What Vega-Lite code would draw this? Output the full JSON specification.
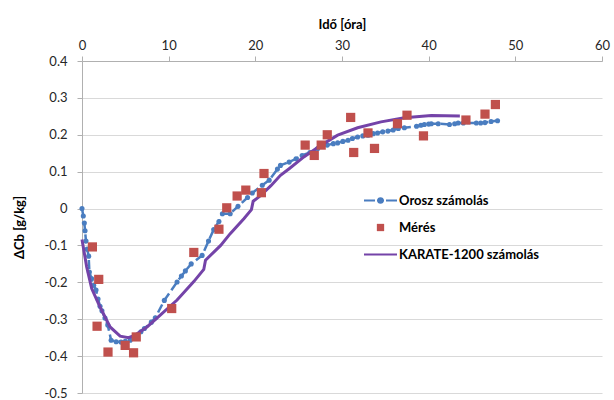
{
  "$schema": "https://vega.github.io/schema/vega-lite/v6.json",
  "autosize": {"type": "none"},
  "width": 520,
  "height": 332,
  "padding": {"left": 82, "top": 61, "right": 12, "bottom": 7},
  "background": "white",
  "config": {
    "font": "Lato",
    "view": {"stroke": null},
    "axis": {"labelFont": "Lato", "titleFont": "Lato", "labelFontSize": 13, "labelColor": "#262626", "titleColor": "#000000", "titleFontSize": 13, "titleFontWeight": "bold", "domainColor": "#B0B0B0", "tickColor": "#B0B0B0", "gridColor": "#D9D9D9", "tickSize": 5}
  },
  "datasets": {
    "orosz": [
      {"t": 0, "v": 0}, {"t": 0.15, "v": -0.02}, {"t": 0.27, "v": -0.039}, {"t": 0.35, "v": -0.06}, {"t": 0.46, "v": -0.088},
      {"t": 0.6, "v": -0.11}, {"t": 0.77, "v": -0.129}, {"t": 0.85, "v": -0.172}, {"t": 1.1, "v": -0.19}, {"t": 1.35, "v": -0.208},
      {"t": 1.62, "v": -0.221}, {"t": 1.85, "v": -0.245}, {"t": 2.08, "v": -0.265}, {"t": 2.3, "v": -0.277}, {"t": 2.65, "v": -0.297},
      {"t": 2.97, "v": -0.316}, {"t": 3.36, "v": -0.357}, {"t": 3.94, "v": -0.361}, {"t": 4.5, "v": -0.362}, {"t": 5.0, "v": -0.36},
      {"t": 5.56, "v": -0.357}, {"t": 6.2, "v": -0.345}, {"t": 6.8, "v": -0.334}, {"t": 7.2, "v": -0.325}, {"t": 8.0, "v": -0.308},
      {"t": 8.46, "v": -0.296}, {"t": 9.5, "v": -0.249}, {"t": 10.97, "v": -0.199}, {"t": 11.47, "v": -0.183}, {"t": 11.93, "v": -0.169},
      {"t": 12.6, "v": -0.15}, {"t": 13.86, "v": -0.127}, {"t": 14.6, "v": -0.088}, {"t": 15.2, "v": -0.057}, {"t": 15.8, "v": -0.035},
      {"t": 16.2, "v": -0.014}, {"t": 17.1, "v": -0.014}, {"t": 18.0, "v": 0.006}, {"t": 19.1, "v": 0.03}, {"t": 19.65, "v": 0.042},
      {"t": 20.8, "v": 0.063}, {"t": 21.6, "v": 0.077}, {"t": 22.55, "v": 0.107}, {"t": 22.9, "v": 0.117}, {"t": 23.9, "v": 0.126},
      {"t": 24.7, "v": 0.135}, {"t": 25.4, "v": 0.144}, {"t": 26.3, "v": 0.152}, {"t": 27.2, "v": 0.163}, {"t": 28.3, "v": 0.172},
      {"t": 29.0, "v": 0.176}, {"t": 29.5, "v": 0.178}, {"t": 30.1, "v": 0.182}, {"t": 30.7, "v": 0.185}, {"t": 31.2, "v": 0.19},
      {"t": 31.8, "v": 0.194}, {"t": 32.4, "v": 0.197}, {"t": 33.0, "v": 0.199}, {"t": 33.6, "v": 0.203}, {"t": 34.1, "v": 0.205},
      {"t": 34.7, "v": 0.208}, {"t": 35.3, "v": 0.21}, {"t": 35.9, "v": 0.213}, {"t": 36.5, "v": 0.217}, {"t": 37.2, "v": 0.219},
      {"t": 38.6, "v": 0.223}, {"t": 39.1, "v": 0.226}, {"t": 39.5, "v": 0.228}, {"t": 40.0, "v": 0.229}, {"t": 40.3, "v": 0.23},
      {"t": 41.1, "v": 0.23}, {"t": 42.4, "v": 0.228}, {"t": 43.0, "v": 0.23}, {"t": 43.4, "v": 0.232}, {"t": 44.0, "v": 0.232},
      {"t": 45.5, "v": 0.232}, {"t": 46.0, "v": 0.232}, {"t": 46.5, "v": 0.233}, {"t": 47.2, "v": 0.236}, {"t": 47.95, "v": 0.238}
    ],
    "meres": [
      {"t": 1.2, "v": -0.104}, {"t": 1.93, "v": -0.192}, {"t": 1.74, "v": -0.319}, {"t": 3.0, "v": -0.389}, {"t": 4.98, "v": -0.371},
      {"t": 5.95, "v": -0.391}, {"t": 6.26, "v": -0.348}, {"t": 10.35, "v": -0.271}, {"t": 12.9, "v": -0.119}, {"t": 15.8, "v": -0.056},
      {"t": 16.7, "v": 0.002}, {"t": 17.9, "v": 0.034}, {"t": 18.9, "v": 0.05}, {"t": 20.7, "v": 0.043}, {"t": 21.0, "v": 0.095},
      {"t": 25.75, "v": 0.172}, {"t": 26.8, "v": 0.144}, {"t": 27.6, "v": 0.172}, {"t": 28.3, "v": 0.2}, {"t": 31.0, "v": 0.247},
      {"t": 31.35, "v": 0.152}, {"t": 33.0, "v": 0.205}, {"t": 33.75, "v": 0.163}, {"t": 36.4, "v": 0.23}, {"t": 37.5, "v": 0.253},
      {"t": 39.4, "v": 0.197}, {"t": 44.3, "v": 0.24}, {"t": 46.5, "v": 0.256}, {"t": 47.7, "v": 0.282}
    ],
    "karate": [
      {"t": 0, "v": -0.084}, {"t": 0.54, "v": -0.158}, {"t": 1.12, "v": -0.217}, {"t": 2.08, "v": -0.267}, {"t": 3.24, "v": -0.321},
      {"t": 4.4, "v": -0.346}, {"t": 5.37, "v": -0.35}, {"t": 6.14, "v": -0.343}, {"t": 7.5, "v": -0.321}, {"t": 9.03, "v": -0.289},
      {"t": 10.97, "v": -0.248}, {"t": 12.9, "v": -0.198}, {"t": 14.05, "v": -0.165}, {"t": 14.25, "v": -0.14}, {"t": 16.0, "v": -0.1},
      {"t": 17.1, "v": -0.068}, {"t": 18.7, "v": -0.027}, {"t": 19.55, "v": -0.003}, {"t": 19.75, "v": 0.02}, {"t": 20.6, "v": 0.035},
      {"t": 21.8, "v": 0.062}, {"t": 22.9, "v": 0.09}, {"t": 23.9, "v": 0.108}, {"t": 25.6, "v": 0.14}, {"t": 27.6, "v": 0.172},
      {"t": 29.5, "v": 0.199}, {"t": 31.8, "v": 0.219}, {"t": 34.5, "v": 0.235}, {"t": 37.2, "v": 0.246}, {"t": 40.3, "v": 0.252},
      {"t": 43.6, "v": 0.251}
    ]
  },
  "encoding": {
    "x": {"field": "t", "type": "quantitative",
      "scale": {"domain": [0, 60], "nice": false, "zero": false},
      "axis": {"orient": "top", "title": "Idő [óra]", "values": [0, 10, 20, 30, 40, 50, 60], "grid": false, "labelPadding": 4, "titlePadding": 8, "labelFlush": false}},
    "y": {"field": "v", "type": "quantitative",
      "scale": {"domain": [-0.5, 0.4], "nice": false, "zero": false},
      "axis": {"title": "ΔCb [g/kg]", "values": [-0.5, -0.4, -0.3, -0.2, -0.1, 0, 0.1, 0.2, 0.3, 0.4], "labelExpr": "datum.value == 0 ? '0' : replace(format(datum.value, '.1f'), '\u2212', '-')", "grid": true, "labelPadding": 10, "titlePadding": 18, "domain": true, "labelFlush": false}}
  },
  "layer": [
    {
      "data": {"name": "orosz"},
      "transform": [{"calculate": "'Orosz számolás'", "as": "s"}],
      "mark": {"type": "line", "strokeWidth": 2.5, "strokeDash": [9, 4], "interpolate": "linear"},
      "encoding": {"color": {"field": "s", "type": "nominal",
        "scale": {"domain": ["Orosz számolás", "Mérés", "KARATE-1200 számolás"], "range": ["#4A7DC0", "#C0504D", "#7443A8"]},
        "legend": {
          "orient": "none", "legendX": 292, "legendY": 133, "title": null, "padding": 0,
          "symbolSize": 100, "symbolStrokeWidth": 2, "labelOffset": 12, "rowPadding": 13,
          "labelFont": "Lato", "labelFontSize": 13, "labelFontWeight": "bold", "labelColor": "#000000",
          "encode": {"symbols": {"update": {
            "shape": {"signal": "datum.value == 'Mérés' ? 'M-0.73,-0.73H0.73V0.73H-0.73Z' : (datum.value == 'Orosz számolás' ? 'M-3.3,0H-1.1M-0.7,0H0.7M1.1,0H3.3M0.45,0A0.45,0.45,0,1,1,-0.45,0A0.45,0.45,0,1,1,0.45,0' : 'M-3.3,0H3.3')"},
            "fill": {"signal": "datum.value == 'Mérés' ? '#C0504D' : (datum.value == 'Orosz számolás' ? '#4A7DC0' : 'transparent')"},
            "stroke": {"signal": "datum.value == 'Mérés' ? '#C0504D' : (datum.value == 'Orosz számolás' ? '#4A7DC0' : '#7443A8')"},
            "strokeWidth": {"signal": "datum.value == 'Mérés' ? 0 : 2"},
            "opacity": {"value": 1}
          }}}
        }}}
    },
    {
      "data": {"name": "orosz"},
      "transform": [{"calculate": "'Orosz számolás'", "as": "s"}],
      "mark": {"type": "point", "shape": "circle", "filled": true, "size": 26, "opacity": 1},
      "encoding": {"color": {"field": "s", "type": "nominal"}}
    },
    {
      "data": {"name": "karate"},
      "transform": [{"calculate": "'KARATE-1200 számolás'", "as": "s"}],
      "mark": {"type": "line", "strokeWidth": 3},
      "encoding": {"color": {"field": "s", "type": "nominal"}}
    },
    {
      "data": {"name": "meres"},
      "transform": [{"calculate": "'Mérés'", "as": "s"}],
      "mark": {"type": "point", "shape": "square", "filled": true, "size": 85, "opacity": 1},
      "encoding": {"color": {"field": "s", "type": "nominal"}}
    }
  ],
  "resolve": {"scale": {"color": "shared"}}
}
